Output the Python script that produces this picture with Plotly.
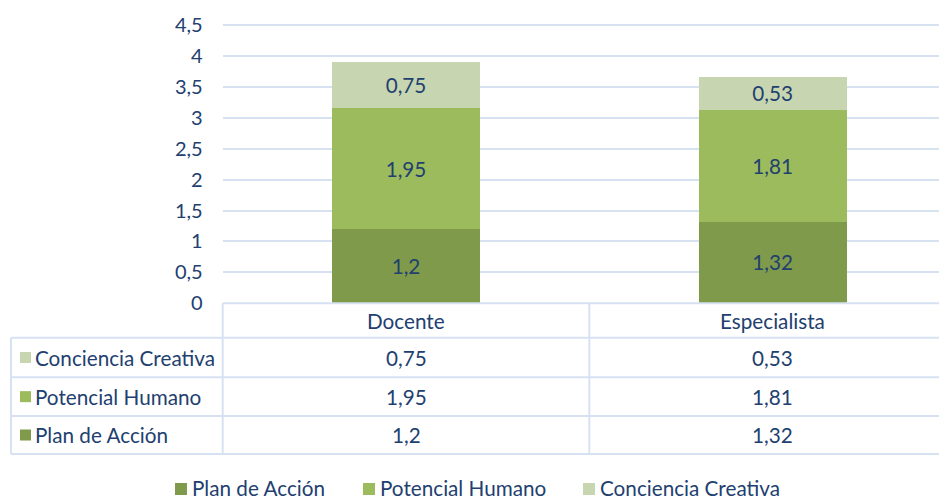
import plotly.graph_objects as go

categories = ["Docente", "Especialista"]
series_names = ["Plan de Acción", "Potencial Humano", "Conciencia Creativa"]
plan_accion = [1.2, 1.32]
potencial_humano = [1.95, 1.81]
conciencia_creativa = [0.75, 0.53]
y_ticks = [0, 0.5, 1, 1.5, 2, 2.5, 3, 3.5, 4, 4.5]

series_values = [plan_accion, potencial_humano, conciencia_creativa]
colors = ["#7f9a4a", "#9bbb5d", "#c7d6b0"]
TXT = "#22406f"
GRID = "#d6e2f2"
FONT = "Lato"
FS = 20.7

W, H = 939, 499
def px(x):
    return x / W
def py(y):
    return 1 - y / H

def fmt(v):
    return ("%g" % v).replace(".", ",")

# layout geometry (pixels)
plot_left, zero_y, y45 = 222.7, 303.3, 25.0
unit_px = (zero_y - y45) / 4.5
top_y = y45 - 3
y_top_val = 4.5 + 3 / unit_px
cat_w = 366.6
x_range = [-0.5, -0.5 + (W - plot_left) / cat_w]

fig = go.Figure()
for name, vals, col in zip(series_names, series_values, colors):
    fig.add_trace(go.Bar(
        x=categories, y=vals, name=name, marker=dict(color=col, line=dict(width=0)),
        text=[fmt(v) for v in vals], textposition="inside", insidetextanchor="middle",
        textangle=0, textfont=dict(color=TXT, size=FS, family=FONT),
        showlegend=False, width=0.404, hoverinfo="skip",
    ))

shapes = []
annotations = []
LW = 2
def hline(x0, x1, y):
    shapes.append(dict(type="line", xref="paper", yref="paper", x0=px(x0), x1=px(x1),
                       y0=py(y), y1=py(y), line=dict(color=GRID, width=LW)))
def vline(x, y0, y1):
    shapes.append(dict(type="line", xref="paper", yref="paper", x0=px(x), x1=px(x),
                       y0=py(y0), y1=py(y1), line=dict(color=GRID, width=LW)))

# data table
row_y = [337.7, 377.3, 416.0, 454.0]
hline(plot_left, W, zero_y)
for y in row_y:
    hline(11, W, y)
vline(11, row_y[0], row_y[-1])
vline(plot_left, zero_y, row_y[-1])
col_div = plot_left + cat_w
vline(col_div, zero_y, row_y[-1])

cat_centers = [plot_left + cat_w * (i + 0.5) for i in range(len(categories))]
for c, cx in zip(categories, cat_centers):
    annotations.append(dict(text=c, x=px(cx), y=py((zero_y + row_y[0]) / 2), xref="paper", yref="paper",
                            showarrow=False, xanchor="center", yanchor="middle",
                            font=dict(color=TXT, size=FS, family=FONT)))

# rows top to bottom: reversed series order
for r, idx in enumerate([2, 1, 0]):
    yc = (row_y[r] + row_y[r + 1]) / 2
    shapes.append(dict(type="rect", xref="paper", yref="paper", x0=px(20), x1=px(31),
                       y0=py(yc - 5.5), y1=py(yc + 5.5), fillcolor=colors[idx], line=dict(width=0)))
    annotations.append(dict(text=series_names[idx], x=px(33), y=py(yc), xref="paper", yref="paper",
                            showarrow=False, xanchor="left", yanchor="middle",
                            font=dict(color=TXT, size=FS, family=FONT)))
    for v, cx in zip(series_values[idx], cat_centers):
        annotations.append(dict(text=fmt(v), x=px(cx), y=py(yc), xref="paper", yref="paper",
                                showarrow=False, xanchor="center", yanchor="middle",
                                font=dict(color=TXT, size=FS, family=FONT)))

# legend (bottom)
leg_x = [175, 363, 583]
leg_y = 488
for i, lx in enumerate(leg_x):
    shapes.append(dict(type="rect", xref="paper", yref="paper", x0=px(lx), x1=px(lx + 12),
                       y0=py(leg_y - 5), y1=py(leg_y + 7), fillcolor=colors[i], line=dict(width=0)))
    annotations.append(dict(text=series_names[i], x=px(lx + 15), y=py(leg_y), xref="paper", yref="paper",
                            showarrow=False, xanchor="left", yanchor="middle",
                            font=dict(color=TXT, size=FS, family=FONT)))

fig.update_layout(
    width=W, height=H, margin=dict(l=0, r=0, t=0, b=0, pad=0), autosize=False,
    paper_bgcolor="white", plot_bgcolor="white",
    barmode="stack", separators=",.", hovermode=False,
    font=dict(family=FONT, color=TXT, size=FS),
    xaxis=dict(domain=[px(plot_left), 1], range=x_range, showticklabels=False, automargin=False,
               showgrid=False, zeroline=False, showline=False, ticks="", fixedrange=True),
    yaxis=dict(domain=[py(zero_y), py(top_y)], range=[0, y_top_val], tickvals=y_ticks, automargin=False,
               showgrid=True, gridcolor=GRID, gridwidth=1.5, zeroline=False, showline=False,
               ticks="", ticklabelstandoff=19, tickfont=dict(color=TXT, size=20, family=FONT),
               fixedrange=True),
    shapes=shapes, annotations=annotations,
)

fig.write_html("out.html", config={"displayModeBar": False},
               post_script="document.body.style.margin='0';document.body.style.padding='0';")
